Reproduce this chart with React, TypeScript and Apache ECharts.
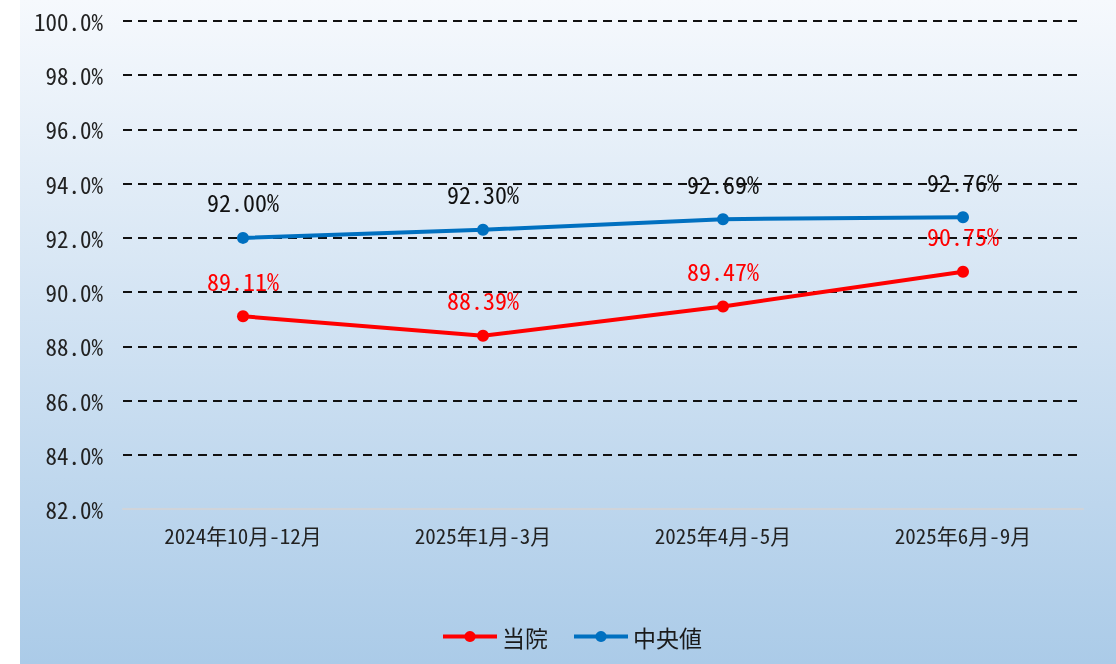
import React, { useEffect, useRef } from "react";
import * as echarts from "echarts";

const categories = ["2024年10月-12月", "2025年1月-3月", "2025年4月-5月", "2025年6月-9月"];
const hospital = [89.11, 88.39, 89.47, 90.75];
const median = [92.0, 92.3, 92.69, 92.76];
const seriesNames = ["当院", "中央値"];

const MONO = '"Noto Sans Mono CJK JP", "Noto Sans CJK JP", "DejaVu Sans Mono", monospace';
const SANS = '"Noto Sans CJK JP", "Noto Sans", sans-serif';

export default function App() {
  const ref = useRef<HTMLDivElement>(null);
  useEffect(() => {
    if (!ref.current) return;
    const chart = echarts.init(ref.current, undefined, { renderer: "svg" });
    chart.setOption({
      animation: false,
      graphic: [
        {
          type: "rect",
          z: -10,
          silent: true,
          shape: { x: 20, y: 0, width: 1096, height: 664 },
          style: {
            fill: new echarts.graphic.LinearGradient(0, 0, 0, 1, [
              { offset: 0, color: "#f6f9fd" },
              { offset: 1, color: "#abcbe8" },
            ]),
          },
        },
      ],
      grid: { left: 123, right: 33, top: 21, bottom: 155 },
      legend: {
        left: 436,
        top: 620,
        itemWidth: 54,
        itemHeight: 14,
        itemGap: 24,
        lineStyle: { width: 4 },
        textStyle: { fontFamily: SANS, fontSize: 23, color: "#1a1a1a" },
        data: seriesNames,
      },
      xAxis: {
        type: "category",
        data: categories,
        boundaryGap: true,
        axisLine: { show: true, lineStyle: { color: "#d0d4da", width: 2 } },
        axisTick: { show: false },
        axisLabel: { fontFamily: MONO, fontSize: 21, color: "#222", margin: 15 },
      },
      yAxis: {
        type: "value",
        min: 82,
        max: 100,
        interval: 2,
        axisLine: { show: false },
        axisTick: { show: false },
        axisLabel: {
          fontFamily: MONO,
          fontSize: 23,
          color: "#222",
          margin: 20,
          formatter: (v: number) => v.toFixed(1) + "%",
        },
        splitLine: { lineStyle: { color: "#111", type: [9, 6], width: 2 } },
      },
      series: [
        {
          name: seriesNames[0],
          type: "line",
          data: hospital,
          symbol: "circle",
          symbolSize: 12,
          itemStyle: { color: "#ff0000" },
          lineStyle: { color: "#ff0000", width: 4 },
          label: {
            show: true,
            position: "top",
            distance: 18,
            fontFamily: MONO,
            fontSize: 24,
            color: "#ff0000",
            formatter: (p: any) => p.value.toFixed(2) + "%",
          },
        },
        {
          name: seriesNames[1],
          type: "line",
          data: median,
          symbol: "circle",
          symbolSize: 12,
          itemStyle: { color: "#0070c0" },
          lineStyle: { color: "#0070c0", width: 4 },
          label: {
            show: true,
            position: "top",
            distance: 18,
            fontFamily: MONO,
            fontSize: 24,
            color: "#111",
            formatter: (p: any) => p.value.toFixed(2) + "%",
          },
        },
      ],
    });
    return () => chart.dispose();
  }, []);
  return (
    <div
      ref={ref}
      style={{ position: "fixed", left: 0, top: 0, width: 1116, height: 664 }}
    />
  );
}
